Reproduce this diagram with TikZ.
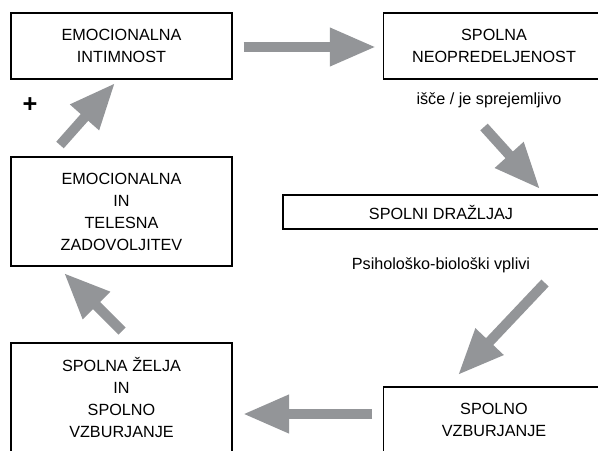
\documentclass[tikz,border=0pt]{standalone}
\usepackage{fontspec}
\setmainfont{Liberation Sans}
\usetikzlibrary{arrows.meta}
\definecolor{arrowgray}{RGB}{147,149,152}

\begin{document}
\begin{tikzpicture}[x=0.75pt,y=-0.75pt,
    box/.style={draw,line width=1pt,align=center,inner sep=0pt,
      font=\fontsize{12.15}{16.5}\selectfont,
      minimum width=221*0.75pt,minimum height=66*0.75pt},
    note/.style={font=\fontsize{12.15}{16.5}\selectfont},
    flow/.style={draw=arrowgray,line width=7.5pt,
      -{Triangle[width=27pt,length=34.5pt]}}]
      \clip (0,0) rectangle (598,450);
      % boxes, clockwise from top left
      \node [box] (intim) at (121.5,46) {EMOCIONALNA\\INTIMNOST};
      \node [box] (neopr) at (494,46) {SPOLNA\\NEOPREDELJENOST};
      \node [box,minimum width=316*0.75pt,minimum height=34*0.75pt] (drazl) at (441,212) {SPOLNI DRAŽLJAJ};
      \node [box] (vzbur) at (494,420) {SPOLNO\\VZBURJANJE};
      \node [box,minimum height=109*0.75pt] (zelja) at (121.5,397.5) {SPOLNA ŽELJA\\IN\\SPOLNO\\VZBURJANJE};
      \node [box,minimum height=109*0.75pt] (zadov) at (121.5,211.5) {EMOCIONALNA\\IN\\TELESNA\\ZADOVOLJITEV};
      % side texts
      \node [note] (isce) at (489,100) {išče / je sprejemljivo};
      \node [note] (vplivi) at (441,265) {Psihološko-biološki vplivi};
      \node [font=\fontsize{19}{19}\selectfont\bfseries] (plus) at (30,105) {+};
      % arrow ends
      \coordinate (d1) at (484,127);  \coordinate (d2) at (540,189);
      \coordinate (e1) at (545,283);  \coordinate (e2) at (458,375);
      \coordinate (f1) at (372,414);  \coordinate (f2) at (243,414);
      \coordinate (g1) at (122,331);  \coordinate (g2) at (64,273);
      \coordinate (h1) at (60,145);   \coordinate (h2) at (115,83);
      \draw [flow] ([yshift=-1*0.75pt]intim.east) ++(11,0) -- ([yshift=-1*0.75pt,xshift=-7*0.75pt]neopr.west);
      \draw [flow] (d1) -- (d2);
      \draw [flow] (e1) -- (e2);
      \draw [flow] (f1) -- (f2);
      \draw [flow] (g1) -- (g2);
      \draw [flow] (h1) -- (h2);
\end{tikzpicture}
\end{document}
